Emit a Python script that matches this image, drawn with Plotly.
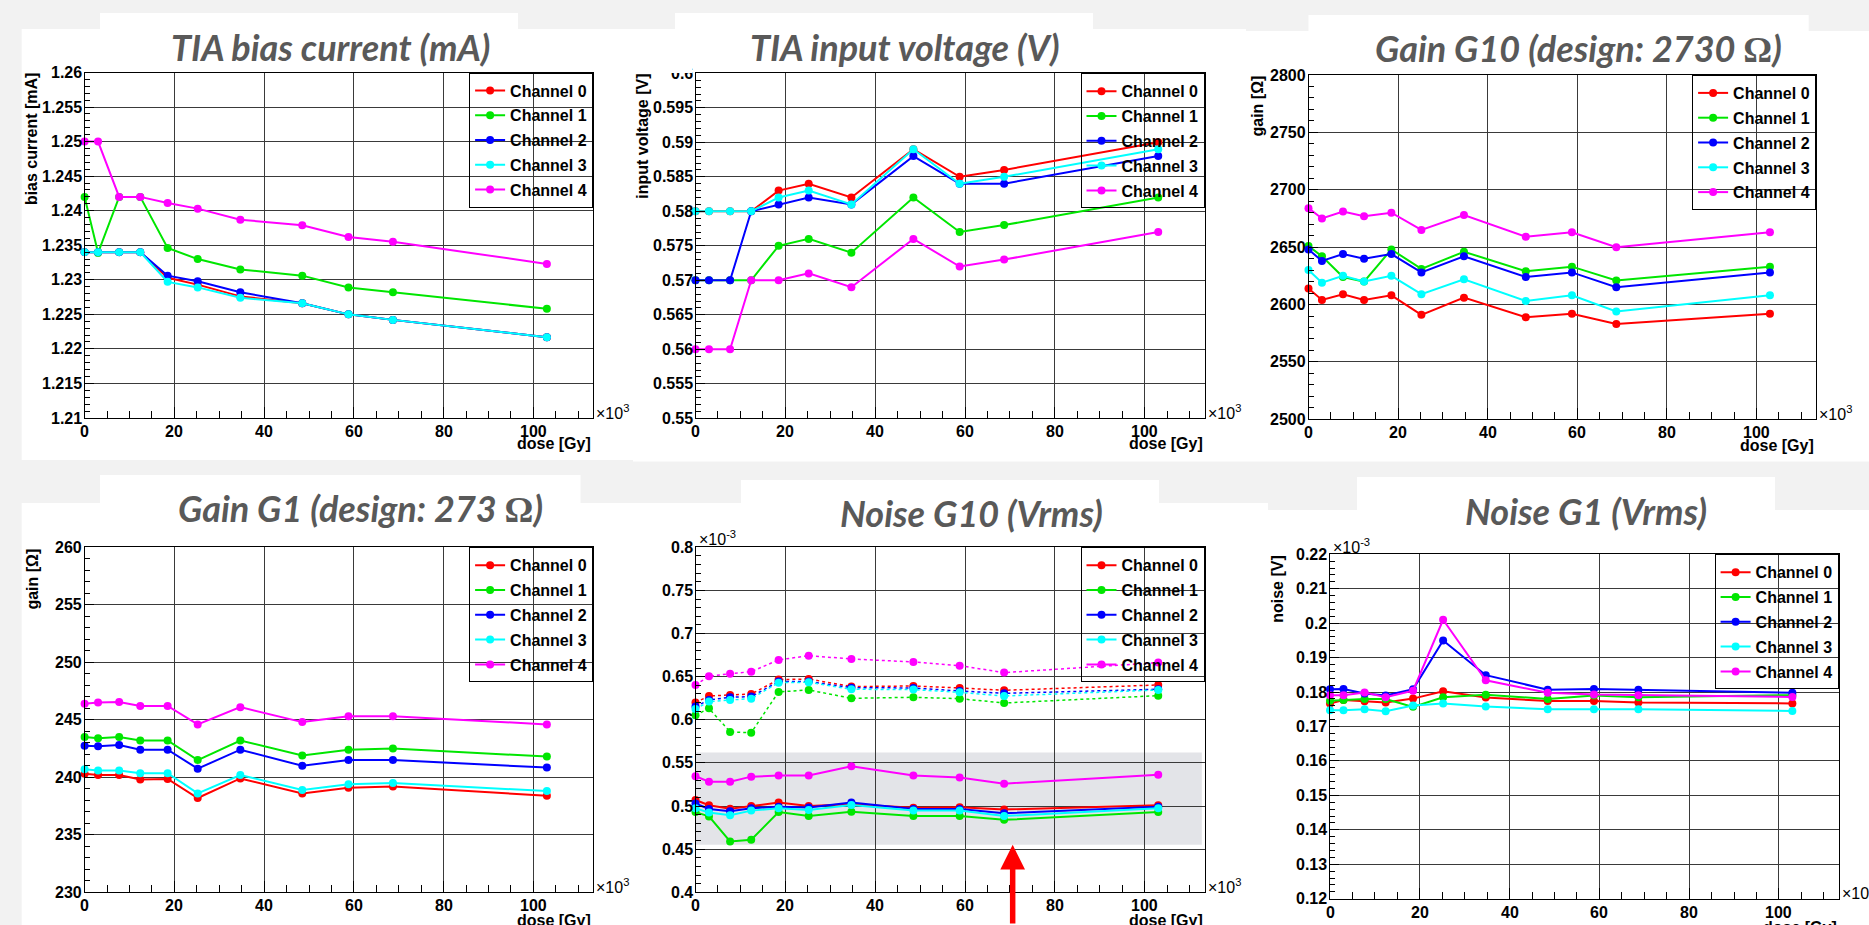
import plotly.graph_objects as go

W, H = 1869, 925

# ---------------- data ----------------
dose = [0, 3, 7.7, 12.4, 18.5, 25.2, 34.7, 48.5, 58.8, 68.7, 103]  # x10^3 Gy
channels = ["Channel 0", "Channel 1", "Channel 2", "Channel 3", "Channel 4"]
colors = ["#ff0000", "#00e600", "#0000ff", "#00ffff", "#ff00ff"]

bias_ch0 = [1.234, 1.234, 1.234, 1.234, 1.2303, 1.2293, 1.2276, 1.2266, 1.2250, 1.2242, 1.2217]
bias_ch1 = [1.242, 1.2339, 1.242, 1.242, 1.2346, 1.2330, 1.2315, 1.2306, 1.2289, 1.2282, 1.2258]
bias_ch2 = [1.234, 1.234, 1.234, 1.234, 1.2306, 1.2298, 1.2282, 1.2266, 1.2250, 1.2242, 1.2217]
bias_ch3 = [1.234, 1.234, 1.234, 1.234, 1.2297, 1.2289, 1.2274, 1.2266, 1.2250, 1.2242, 1.2217]
bias_ch4 = [1.250, 1.250, 1.242, 1.242, 1.2411, 1.2403, 1.2387, 1.2379, 1.2362, 1.2355, 1.2323]

vin_ch0 = [0.580, 0.580, 0.580, 0.580, 0.583, 0.584, 0.582, 0.589, 0.585, 0.586, 0.590]
vin_ch1 = [0.570, 0.570, 0.570, 0.570, 0.575, 0.576, 0.574, 0.582, 0.577, 0.578, 0.582]
vin_ch2 = [0.570, 0.570, 0.570, 0.580, 0.581, 0.582, 0.581, 0.588, 0.584, 0.584, 0.588]
vin_ch3 = [0.580, 0.580, 0.580, 0.580, 0.582, 0.583, 0.581, 0.589, 0.584, 0.585, 0.589]
vin_ch4 = [0.560, 0.560, 0.560, 0.570, 0.570, 0.571, 0.569, 0.576, 0.572, 0.573, 0.577]

g10_ch0 = [2614, 2604, 2609, 2604, 2608, 2591, 2606, 2589, 2592, 2583, 2592]
g10_ch1 = [2651, 2642, 2624, 2620, 2648, 2631, 2646, 2629, 2633, 2621, 2633]
g10_ch2 = [2648, 2638, 2644, 2640, 2644, 2628, 2642, 2624, 2628, 2615, 2628]
g10_ch3 = [2630, 2619, 2625, 2620, 2625, 2609, 2622, 2603, 2608, 2594, 2608]
g10_ch4 = [2684, 2675, 2681, 2677, 2680, 2665, 2678, 2659, 2663, 2650, 2663]

g1_ch0 = [240.3, 240.2, 240.2, 239.8, 239.85, 238.2, 239.9, 238.6, 239.1, 239.2, 238.4]
g1_ch1 = [243.5, 243.4, 243.5, 243.2, 243.2, 241.5, 243.2, 241.9, 242.4, 242.5, 241.8]
g1_ch2 = [242.75, 242.7, 242.8, 242.4, 242.4, 240.75, 242.4, 241.0, 241.5, 241.5, 240.85]
g1_ch3 = [240.7, 240.6, 240.6, 240.35, 240.35, 238.6, 240.2, 238.9, 239.4, 239.5, 238.8]
g1_ch4 = [246.4, 246.5, 246.55, 246.2, 246.2, 244.6, 246.1, 244.8, 245.3, 245.3, 244.6]

# noise G10, in units of 1e-3 V (solid = measured set, dotted = second set)
n10_ch0 = [0.507, 0.501, 0.497, 0.500, 0.504, 0.500, 0.502, 0.498, 0.4985, 0.496, 0.501]
n10_ch1 = [0.493, 0.488, 0.459, 0.461, 0.493, 0.4885, 0.4935, 0.4885, 0.4885, 0.484, 0.493]
n10_ch2 = [0.503, 0.4966, 0.494, 0.4974, 0.4993, 0.4982, 0.504, 0.4966, 0.4966, 0.4916, 0.4993]
n10_ch3 = [0.4974, 0.4924, 0.4893, 0.4947, 0.4974, 0.4954, 0.5012, 0.4947, 0.4947, 0.4885, 0.4974]
n10_ch4 = [0.5345, 0.5283, 0.5283, 0.5341, 0.5353, 0.5353, 0.5461, 0.5353, 0.533, 0.526, 0.5364]
n10d_ch0 = [0.620, 0.6276, 0.6288, 0.6299, 0.6466, 0.6473, 0.6385, 0.6392, 0.6369, 0.6342, 0.6404]
n10d_ch1 = [0.6052, 0.6133, 0.5859, 0.5851, 0.6323, 0.6346, 0.6249, 0.6261, 0.6245, 0.6195, 0.628]
n10d_ch2 = [0.6153, 0.623, 0.6261, 0.6269, 0.6443, 0.6443, 0.6373, 0.6369, 0.6334, 0.6307, 0.6354]
n10d_ch3 = [0.6126, 0.6211, 0.623, 0.6245, 0.6431, 0.6435, 0.6354, 0.635, 0.6319, 0.6276, 0.6346]
n10d_ch4 = [0.6404, 0.6504, 0.6535, 0.6558, 0.6694, 0.6744, 0.6705, 0.6671, 0.6628, 0.6547, 0.6663]

# noise G1, in units of 1e-3 V
n1_ch0 = [0.1767, 0.1777, 0.1773, 0.177, 0.1781, 0.1802, 0.1784, 0.1774, 0.1774, 0.177, 0.1767]
n1_ch1 = [0.1775, 0.1777, 0.178, 0.178, 0.1757, 0.1785, 0.1792, 0.178, 0.179, 0.1785, 0.1791]
n1_ch2 = [0.1808, 0.1809, 0.1796, 0.179, 0.1808, 0.195, 0.1849, 0.1807, 0.1809, 0.1807, 0.1798]
n1_ch3 = [0.1747, 0.1747, 0.175, 0.1744, 0.1761, 0.1767, 0.1758, 0.175, 0.175, 0.175, 0.1745]
n1_ch4 = [0.1791, 0.1791, 0.1799, 0.1785, 0.1804, 0.201, 0.1834, 0.1798, 0.1793, 0.1791, 0.1786]

x_ticks = [0, 20, 40, 60, 80, 100]
x_labels = ["0", "20", "40", "60", "80", "100"]
bias_ticks = [1.21, 1.215, 1.22, 1.225, 1.23, 1.235, 1.24, 1.245, 1.25, 1.255, 1.26]
bias_labels = ["1.21", "1.215", "1.22", "1.225", "1.23", "1.235", "1.24", "1.245", "1.25", "1.255", "1.26"]
vin_ticks = [0.55, 0.555, 0.56, 0.565, 0.57, 0.575, 0.58, 0.585, 0.59, 0.595, 0.6]
vin_labels = ["0.55", "0.555", "0.56", "0.565", "0.57", "0.575", "0.58", "0.585", "0.59", "0.595", "0.6"]
g10_ticks = [2500, 2550, 2600, 2650, 2700, 2750, 2800]
g10_labels = ["2500", "2550", "2600", "2650", "2700", "2750", "2800"]
g1_ticks = [230, 235, 240, 245, 250, 255, 260]
g1_labels = ["230", "235", "240", "245", "250", "255", "260"]
n10_ticks = [0.4, 0.45, 0.5, 0.55, 0.6, 0.65, 0.7, 0.75, 0.8]
n10_labels = ["0.4", "0.45", "0.5", "0.55", "0.6", "0.65", "0.7", "0.75", "0.8"]
n1_ticks = [0.12, 0.13, 0.14, 0.15, 0.16, 0.17, 0.18, 0.19, 0.2, 0.21, 0.22]
n1_labels = ["0.12", "0.13", "0.14", "0.15", "0.16", "0.17", "0.18", "0.19", "0.2", "0.21", "0.22"]

band_low, band_high, band_end = 0.455, 0.562, 112.7
arrow_dose, arrow_tip = 70.6, 0.455

# ---------------- layout helpers ----------------
def fx(p):
    return p / W

def fy(p):
    return 1 - p / H

ROOT = "Liberation Sans, Arial, sans-serif"
OMEGA = "<span style=\"font-family:'Liberation Serif';font-style:normal\">Ω</span>"
XMAX = 113.3

panels = [
    dict(title="TIA bias current (mA)", tc=(330, 47), ytitle="bias current [mA]", yt_x=31.6,
         series=[bias_ch0, bias_ch1, bias_ch2, bias_ch3, bias_ch4], ticks=bias_ticks, labels=bias_labels,
         minor=0.001, yr=(1.21, 1.26), box=(84.6, 593.1, 72.5, 418.0), dose_y=443, x10_y=412),
    dict(title="TIA input voltage (V)", tc=(905, 47), ytitle="input voltage [V]", yt_x=643,
         series=[vin_ch0, vin_ch1, vin_ch2, vin_ch3, vin_ch4], ticks=vin_ticks, labels=vin_labels,
         minor=0.001, yr=(0.55, 0.6), box=(695.5, 1204.5, 73.3, 418.3), dose_y=443, x10_y=412),
    dict(title="Gain G10 (design: 2730 " + OMEGA + ")", tc=(1578, 48), ytitle="gain [Ω]", yt_x=1257,
         series=[g10_ch0, g10_ch1, g10_ch2, g10_ch3, g10_ch4], ticks=g10_ticks, labels=g10_labels,
         minor=10, yr=(2500, 2800), box=(1308.5, 1816.1, 75.0, 419.3), dose_y=445, x10_y=413),
    dict(title="Gain G1 (design: 273 " + OMEGA + ")", tc=(360, 508), ytitle="gain [Ω]", yt_x=32.8,
         series=[g1_ch0, g1_ch1, g1_ch2, g1_ch3, g1_ch4], ticks=g1_ticks, labels=g1_labels,
         minor=1, yr=(230, 260), box=(84.6, 593.1, 547.3, 892.3), dose_y=920, x10_y=886),
    dict(title="Noise G10 (Vrms)", tc=(971, 513), ytitle=None, yt_x=None,
         series=[n10_ch0, n10_ch1, n10_ch2, n10_ch3, n10_ch4],
         dotted=[n10d_ch0, n10d_ch1, n10d_ch2, n10d_ch3, n10d_ch4], ticks=n10_ticks, labels=n10_labels,
         minor=0.01, yr=(0.4, 0.8), box=(695.5, 1204.5, 547.3, 892.3), dose_y=920, x10_y=886, yexp=(697, 538)),
    dict(title="Noise G1 (Vrms)", tc=(1586, 511), ytitle="noise [V]", yt_x=1277.5,
         series=[n1_ch0, n1_ch1, n1_ch2, n1_ch3, n1_ch4], ticks=n1_ticks, labels=n1_labels,
         minor=0.002, yr=(0.12, 0.22), box=(1330, 1838.6, 554.3, 898.7), dose_y=927, x10_y=892, yexp=(1331, 546)),
]

fig = go.Figure()
shapes = []
annotations = []
layout = {}

# slide white areas (picture backgrounds and title boxes)
white_rects = [
    (21.7, 633, 29, 460), (633, 1246, 29, 461.5), (1246, 1869, 31, 461.5),
    (21.7, 1268, 503, 925), (1268, 1869, 510, 925),
    (100, 518, 13, 30), (675, 1093, 13, 30), (1308.5, 1808.7, 15, 32),
    (100, 580.5, 475, 504), (741, 1159, 480, 504), (1357, 1775, 477, 511),
]
for (x0, x1, y0, y1) in white_rects:
    shapes.append(dict(type="rect", xref="paper", yref="paper", x0=fx(x0), x1=fx(x1),
                       y0=fy(y1), y1=fy(y0), fillcolor="white", line=dict(width=0), layer="below"))

tick_font = dict(family=ROOT, size=16, color="black", weight="bold")

for k, p in enumerate(panels, start=1):
    sfx = "" if k == 1 else str(k)
    xa, ya = "x" + sfx, "y" + sfx
    legname = "legend" + sfx
    x0, x1, y0, y1 = p["box"]

    dotted = p.get("dotted")
    if dotted:
        for i, ys in enumerate(dotted):
            fig.add_trace(go.Scatter(
                x=dose, y=ys, xaxis=xa, yaxis=ya, mode="lines+markers", showlegend=False,
                line=dict(color=colors[i], width=1.5, dash="dot"),
                marker=dict(color=colors[i], size=8), cliponaxis=False))
    for i, ys in enumerate(p["series"]):
        fig.add_trace(go.Scatter(
            x=dose, y=ys, xaxis=xa, yaxis=ya, mode="lines+markers", name=channels[i],
            legend=legname, legendgroup=f"p{k}c{i}",
            line=dict(color=colors[i], width=2),
            marker=dict(color=colors[i], size=8), cliponaxis=False))

    ymin, ymax = p["yr"]
    nminor = int(round((ymax - ymin) / p["minor"]))
    yminor_vals = [ymin + j * p["minor"] for j in range(nminor + 1)]
    xminor_vals = [j * 5 for j in range(23)]

    layout["xaxis" + sfx] = dict(
        domain=[fx(x0), fx(x1)], anchor=ya, range=[0, XMAX],
        tickmode="array", tickvals=x_ticks, showticklabels=False,
        ticks="inside", ticklen=11, tickcolor="black", tickwidth=1,
        minor=dict(tickmode="array", tickvals=xminor_vals, ticks="inside", ticklen=7,
                   tickcolor="black", showgrid=False),
        showline=True, linecolor="black", linewidth=1, mirror=True,
        showgrid=True, gridcolor="#3a3a3a", gridwidth=1, zeroline=False, fixedrange=True)
    layout["yaxis" + sfx] = dict(
        domain=[fy(y1), fy(y0)], anchor=xa, range=[ymin, ymax],
        tickmode="array", tickvals=p["ticks"], showticklabels=False,
        ticks="inside", ticklen=9, tickcolor="black", tickwidth=1,
        minor=dict(tickmode="array", tickvals=yminor_vals, ticks="inside", ticklen=5,
                   tickcolor="black", showgrid=False),
        showline=True, linecolor="black", linewidth=1, mirror=True,
        showgrid=True, gridcolor="#3a3a3a", gridwidth=1, zeroline=False, fixedrange=True)

    # tick labels (ROOT style: right next to the axis)
    for tv, tl in zip(x_ticks, x_labels):
        annotations.append(dict(text=tl, x=tv, xref=xa, y=fy(y1 + 3), yref="paper",
                                xanchor="center", yanchor="top", showarrow=False, font=tick_font))
    for tv, tl in zip(p["ticks"], p["labels"]):
        annotations.append(dict(text=tl, x=fx(x0 - 1), xref="paper", y=tv, yref=ya,
                                xanchor="right", yanchor="middle", showarrow=False, font=tick_font))

    layout[legname] = dict(
        x=fx(x1), xanchor="right", y=fy(y0), yanchor="top",
        bgcolor="rgba(0,0,0,0)", bordercolor="black", borderwidth=1,
        font=dict(family=ROOT, size=16, color="black", weight="bold"),
        traceorder="grouped", tracegroupgap=1, itemwidth=30)

    # title of the picture
    annotations.append(dict(
        text=p["title"], x=fx(p["tc"][0]), y=fy(p["tc"][1]), xref="paper", yref="paper",
        xanchor="center", yanchor="middle", showarrow=False,
        font=dict(family="Lato, Open Sans, sans-serif", size=36, color="#595959",
                  weight="bold", style="italic")))
    # y title
    if p["ytitle"]:
        annotations.append(dict(
            text=p["ytitle"], x=fx(p["yt_x"]), y=fy(y0 - 1), xref="paper", yref="paper",
            xanchor="center", yanchor="top", textangle=-90, showarrow=False,
            font=dict(family=ROOT, size=16, color="black", weight="bold")))
    # x title
    annotations.append(dict(
        text="dose [Gy]", x=fx(x1), y=fy(p["dose_y"]), xref="paper", yref="paper",
        xanchor="right", yanchor="middle", showarrow=False,
        font=dict(family=ROOT, size=16, color="black", weight="bold")))
    annotations.append(dict(
        text="×10<sup>3</sup>", x=fx(x1 + 1), y=fy(p["x10_y"]), xref="paper", yref="paper",
        xanchor="left", yanchor="middle", showarrow=False,
        font=dict(family=ROOT, size=16, color="black")))
    if p.get("yexp"):
        annotations.append(dict(
            text="×10<sup>-3</sup>", x=fx(p["yexp"][0]), y=fy(p["yexp"][1]), xref="paper", yref="paper",
            xanchor="left", yanchor="middle", showarrow=False,
            font=dict(family=ROOT, size=16, color="black")))

# grey highlighted band in Noise G10
shapes.append(dict(type="rect", xref="x5", yref="y5", x0=0, x1=band_end, y0=band_low, y1=band_high,
                   fillcolor="#e3e4e8", line=dict(width=0), layer="below"))

# white patch hiding the top of the clipped "0.6" label of the input voltage picture
annotations.append(dict(
    text=" ", x=fx(692), y=fy(73), xref="paper", yref="paper", xanchor="right", yanchor="bottom",
    width=54, height=16, bgcolor="white", borderpad=0, borderwidth=0, showarrow=False,
    font=dict(size=10)))

# red arrow
annotations.append(dict(
    x=arrow_dose, y=arrow_tip, xref="x5", yref="y5", ax=0, ay=110, axref="pixel", ayref="pixel",
    text="", showarrow=True, arrowhead=2, arrowsize=0.9, arrowwidth=5.5, arrowcolor="#ff0000"))

fig.update_layout(
    width=W, height=H, margin=dict(l=0, r=0, t=0, b=0),
    paper_bgcolor="#f2f2f2", plot_bgcolor="white",
    showlegend=True, shapes=shapes, annotations=annotations, **layout)

fig.write_html("out.html", config={"displayModeBar": False},
               post_script="document.body.style.margin='0px';")
